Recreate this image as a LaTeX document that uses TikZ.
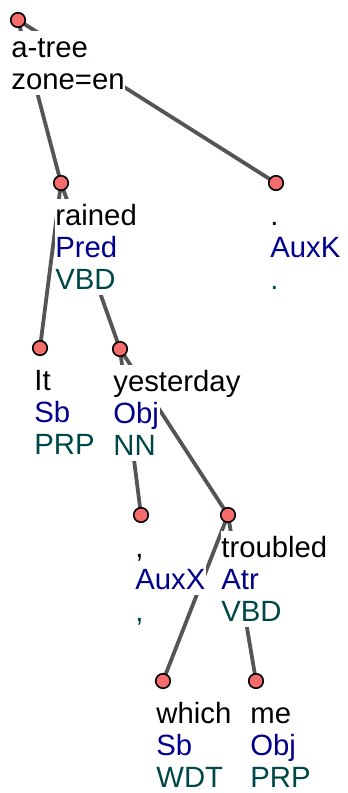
\documentclass[tikz,border=0pt]{standalone}
\usepackage{fontspec}
\setmainfont{Liberation Sans}
\definecolor{afuncol}{RGB}{0,0,139}
\definecolor{tagcol}{RGB}{0,72,72}
\definecolor{edgecol}{RGB}{85,85,85}
\definecolor{dotcol}{RGB}{245,108,108}
\pgfdeclarelayer{edges}
\pgfsetlayers{edges,main}
% three stacked label lines: form, afun, tag
\newcommand{\tlabel}[5]{%
  \node[word] (#1form) at (#2) {#3};
  \node[word,anchor=north west,text=afuncol] (#1afun) at (#1form.south west) {#4};
  \node[word,anchor=north west,text=tagcol] (#1tag) at (#1afun.south west) {#5};}
\tikzset{
  dot/.style={circle,draw=black,line width=1.6pt,fill=dotcol,minimum size=14.5pt,inner sep=0pt},
  word/.style={anchor=base west,inner sep=0pt,fill=white,draw=white,line width=0.8pt,
    text height=25.7pt,text depth=5.5pt,font=\fontsize{29.3}{32}\selectfont},
  dep/.style={draw=edgecol,line width=3.8pt}
}
\begin{document}
\begin{tikzpicture}[x=1pt,y=-1pt]
\useasboundingbox (0,0) rectangle (348,793);

% nodes
\node[dot] (root) at (18,20) {};
\node[dot] (rained) at (61,183) {};
\node[dot] (period) at (276,183) {};
\node[dot] (it) at (40,348) {};
\node[dot] (yesterday) at (120,349) {};
\node[dot] (comma) at (141,515) {};
\node[dot] (troubled) at (228,515) {};
\node[dot] (which) at (163,681) {};
\node[dot] (me) at (256,681) {};

% labels
\node[word] (roottree) at (11,57) {a-tree};
\node[word,anchor=north west] (rootzone) at (roottree.south west) {zone=en};
\tlabel{rained}{55,225}{rained}{Pred}{VBD}
\tlabel{period}{270,225}{.}{AuxK}{.}
\tlabel{it}{34,390}{It}{Sb}{PRP}
\tlabel{yesterday}{113,391}{yesterday}{Obj}{NN}
\tlabel{comma}{135,557}{,}{AuxX}{,}
\tlabel{troubled}{221,557}{troubled}{Atr}{VBD}
\tlabel{which}{156,723}{which}{Sb}{WDT}
\tlabel{me}{250,723}{me}{Obj}{PRP}

% edges
\begin{pgfonlayer}{edges}
\draw[dep] (root.center) -- (rained.center);
\draw[dep] (root.center) -- (period.center);
\draw[dep] (rained.center) -- (it.center);
\draw[dep] (rained.center) -- (yesterday.center);
\draw[dep] (yesterday.center) -- (comma.center);
\draw[dep] (yesterday.center) -- (troubled.center);
\draw[dep] (troubled.center) -- (which.center);
\draw[dep] (troubled.center) -- (me.center);
\end{pgfonlayer}

\end{tikzpicture}
\end{document}
